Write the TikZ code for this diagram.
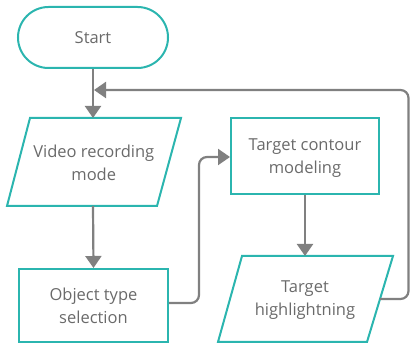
\documentclass[tikz,border=0pt]{standalone}
\usepackage{fontspec}
\setmainfont{Open Sans}
\usetikzlibrary{arrows.meta,calc}
\definecolor{teal1}{HTML}{2BB5AF}
\definecolor{lgray}{HTML}{808080}
\definecolor{tgray}{HTML}{6A6A6A}
\begin{document}
\begin{tikzpicture}[x=1pt,y=-1pt,
  lbl/.style={inner sep=0pt,align=center,text=tgray,font=\fontsize{16.5}{23}\selectfont},
  shapeline/.style={draw=teal1,line width=2pt,line join=miter},
  conn/.style={draw=lgray,line width=2.2pt,-{Triangle[width=16pt,length=12pt]},rounded corners=8pt}]
\useasboundingbox (0,0) rectangle (410,344);
% Start
\node[lbl,shapeline,rounded corners=30.5pt,minimum width=150pt,minimum height=61pt] (start) at (93,37.5) {Start};
% Video recording mode (parallelogram)
\node[lbl,minimum width=128pt,minimum height=88pt] (video) at (93.75,163) {Video recording\\mode};
\draw[shapeline] (30,118) -- (181,118) -- (157,206) -- (7,206) -- cycle;
% Object type selection
\node[lbl,shapeline,minimum width=149pt,minimum height=73pt] (object) at (93.5,305.5) {Object type\\selection};
% Target contour modeling
\node[shapeline,inner sep=0pt,minimum width=148pt,minimum height=76pt] (contour) at (305,156) {};
\node[lbl] (contourtxt) at (305,158.5) {Target contour\\modeling};
% Target highlightning (parallelogram)
\node[lbl,minimum width=126pt,minimum height=86pt] (high) at (305,300) {Target\\highlightning};
\draw[shapeline] (242,256) -- (393,256) -- (367,342) -- (218,342) -- cycle;
\coordinate (highR) at (380,299);
\coordinate (loopTop) at (94,90);
% connectors
\draw[conn] (start.south) -- (93,118);
\draw[conn] (93,206) -- (object.north);
\draw[conn] (object.east |- 0,303) -- (199,303) -- (199,157) -- (contour.west |- 0,157);
\draw[conn] (contour.south) -- (305,256);
\draw[conn] (highR) -- (408.5,299) -- (408.5,90) -- (loopTop);
\end{tikzpicture}
\end{document}
